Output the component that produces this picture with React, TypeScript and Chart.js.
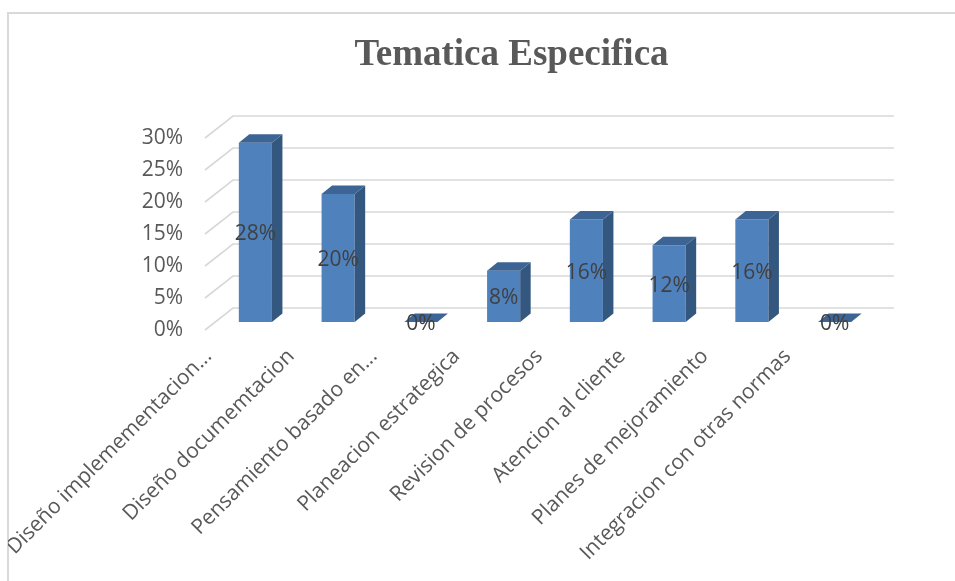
import React, { useEffect, useRef } from "react";
import { Chart, registerables } from "chart.js";

Chart.register(...registerables);

const categories: string[] = [
  "Diseño implemementacion...",
  "Diseño documemtacion",
  "Pensamiento basado en...",
  "Planeacion estrategica",
  "Revision de procesos",
  "Atencion al cliente",
  "Planes de mejoramiento",
  "Integracion con otras normas",
];
const values: number[] = [0.28, 0.2, 0, 0.08, 0.16, 0.12, 0.16, 0];
const yMin = 0;
const yMax = 0.3;
const yStep = 0.05;
const titleText = "Tematica Especifica";

const FRONT = "#4F81BD";
const SIDE = "#34577F";
const TOP = "#3C6494";
const GRID = "#D9D9D9";
const TEXT = "#595959";
const LABEL = "#404040";
const FONT = "'Open Sans', sans-serif";
const TITLE_FONT = "bold 37px 'Liberation Serif', 'Times New Roman', serif";
const TITLE_X = 503.5;
const TITLE_BASELINE = 57;

const BAR_DX = 10.5;
const BAR_DY = -8.5;

const threeD = {
  id: "threeD",
  beforeDatasetsDraw(chart: any) {
    const { ctx, chartArea } = chart;
    const ys = chart.scales.y;
    ctx.save();
    ctx.strokeStyle = GRID;
    ctx.lineWidth = 1.7;
    ys.ticks.forEach((t: any) => {
      const py = ys.getPixelForValue(t.value);
      ctx.beginPath();
      ctx.moveTo(chartArea.left - 9, py + 8);
      ctx.lineTo(chartArea.left + 19, py - 14);
      ctx.lineTo(chartArea.right + 18, py - 14);
      ctx.stroke();
    });
    ctx.restore();
  },
  afterDatasetsDraw(chart: any) {
    const { ctx } = chart;
    const meta = chart.getDatasetMeta(0);
    ctx.save();
    meta.data.forEach((bar: any) => {
      const p = bar.getProps(["x", "y", "base", "width"], true);
      const x0 = p.x - p.width / 2;
      const x1 = p.x + p.width / 2;
      const top = Math.min(p.y, p.base);
      const base = Math.max(p.y, p.base);
      if (base - top > 0.5) {
        ctx.fillStyle = SIDE;
        ctx.beginPath();
        ctx.moveTo(x1, top);
        ctx.lineTo(x1 + BAR_DX, top + BAR_DY);
        ctx.lineTo(x1 + BAR_DX, base + BAR_DY);
        ctx.lineTo(x1, base);
        ctx.closePath();
        ctx.fill();
      }
      ctx.fillStyle = TOP;
      ctx.beginPath();
      ctx.moveTo(x0, top);
      ctx.lineTo(x1, top);
      ctx.lineTo(x1 + BAR_DX, top + BAR_DY);
      ctx.lineTo(x0 + BAR_DX, top + BAR_DY);
      ctx.closePath();
      ctx.fill();
    });
    ctx.font = `21px ${FONT}`;
    ctx.fillStyle = LABEL;
    ctx.textAlign = "center";
    ctx.textBaseline = "middle";
    meta.data.forEach((bar: any, i: number) => {
      const p = bar.getProps(["x", "y", "base"], true);
      ctx.fillText(`${Math.round(values[i] * 100)}%`, p.x, (p.y + p.base) / 2 + 2);
    });
    ctx.restore();
  },
  afterDraw(chart: any) {
    const { ctx } = chart;
    ctx.save();
    ctx.font = TITLE_FONT;
    ctx.fillStyle = TEXT;
    ctx.textAlign = "center";
    ctx.textBaseline = "alphabetic";
    ctx.fillText(titleText, TITLE_X, TITLE_BASELINE);
    ctx.restore();
  },
};

export default function App() {
  const ref = useRef<HTMLCanvasElement | null>(null);
  useEffect(() => {
    if (!ref.current) return;
    const chart = new Chart(ref.current, {
      type: "bar",
      data: {
        labels: categories,
        datasets: [
          {
            data: values,
            backgroundColor: FRONT,
            borderWidth: 0,
            barPercentage: 0.4,
            categoryPercentage: 1,
          },
        ],
      },
      options: {
        animation: false,
        responsive: true,
        maintainAspectRatio: false,
        layout: { padding: { left: 100, right: 71, top: 122, bottom: 0 } },
        plugins: {
          legend: { display: false },
          tooltip: { enabled: false },
          title: { display: false },
        },
        scales: {
          x: {
            grid: { display: false, drawTicks: false },
            border: { display: false },
            ticks: {
              autoSkip: false,
              minRotation: 45,
              maxRotation: 45,
              color: TEXT,
              font: { family: FONT, size: 21 },
              padding: 22,
              labelOffset: -47,
            },
            afterFit(scale: any) {
              scale.height = 251;
            },
          },
          y: {
            min: yMin,
            max: yMax,
            grid: { display: false, drawTicks: false },
            border: { display: false },
            ticks: {
              stepSize: yStep,
              color: TEXT,
              font: { family: FONT, size: 21 },
              padding: 31,
              labelOffset: 8,
              callback: (v: any) => `${Math.round(Number(v) * 100)}%`,
            },
            afterFit(scale: any) {
              scale.width = 106;
            },
          },
        },
      },
      plugins: [threeD],
    });
    return () => chart.destroy();
  }, []);

  return (
    <>
      <div
        style={{
          position: "fixed",
          left: 7,
          top: 12,
          width: 2000,
          height: 2000,
          borderTop: `2px solid ${GRID}`,
          borderLeft: `2px solid ${GRID}`,
          pointerEvents: "none",
        }}
      />
      <div style={{ position: "relative", width: 939, height: 565 }}>
        <canvas ref={ref} />
      </div>
    </>
  );
}
